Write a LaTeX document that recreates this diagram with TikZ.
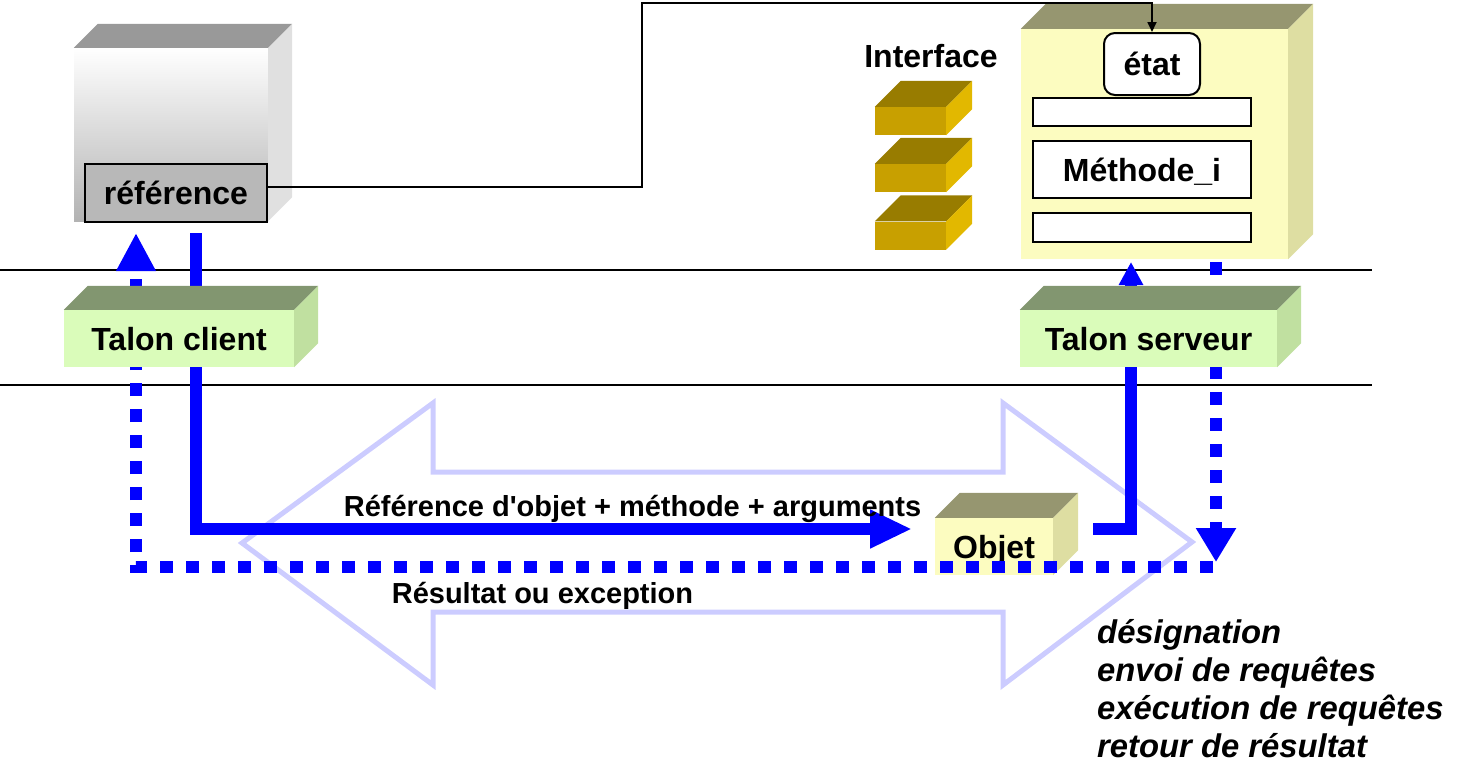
\documentclass[tikz,border=0pt]{standalone}
\usepackage{fontspec}
\setmainfont{Liberation Sans}
\usepackage{xcolor}
\usepackage{tikz}
\usetikzlibrary{arrows.meta,calc}

\definecolor{brickTop}{RGB}{152,124,0}
\definecolor{brickFront}{RGB}{200,160,0}
\definecolor{brickSide}{RGB}{226,184,0}
\definecolor{talonTop}{RGB}{130,150,112}
\definecolor{talonFront}{RGB}{218,252,186}
\definecolor{talonSide}{RGB}{192,224,160}
\definecolor{servTop}{RGB}{150,150,112}
\definecolor{servFront}{RGB}{252,252,192}
\definecolor{servSide}{RGB}{222,222,162}
\definecolor{haloBlue}{RGB}{204,204,255}

\newcommand{\bigfont}{\fontsize{32}{38}\selectfont\bfseries}
% top and side faces of a box whose front face is node #1
\newcommand{\cubeside}[4]{%
  \fill[#3] (#1.north west) -- ++(#2,-#2) -- ($(#1.north east)+(#2,-#2)$) -- (#1.north east) -- cycle;
  \fill[#4] (#1.north east) -- ++(#2,-#2) -- ($(#1.south east)+(#2,-#2)$) -- (#1.south east) -- cycle;
}

\begin{document}
\begin{tikzpicture}[x=1pt,y=-1pt,
    face/.style={inner sep=0pt, text height=23pt, text depth=0pt, font=\bigfont},
    slot/.style={draw, line width=2pt, fill=white, inner sep=0pt, minimum width=218pt},
    flow/.style={draw=blue, line width=12pt},
    dotflow/.style={flow, dash pattern=on 13pt off 13pt},
    sep/.style={line width=2pt},
    link/.style={line width=1.8pt, -{Triangle[length=10pt,width=9pt]}},
    msg/.style={font=\fontsize{29}{34}\selectfont\bfseries, inner sep=0pt, anchor=base},
    roleitem/.style={font=\fontsize{32.8}{38}\selectfont\bfseries\itshape, inner sep=0pt, anchor=base west}]
    \useasboundingbox (0,0) rectangle (1464,782);
    % Layer separators
    \draw[sep] (0,270) -- (1372,270);
    \draw[sep] (0,385) -- (1372,385);
    % Double arrow in the background
    \draw[haloBlue, line width=5pt] (242,543) -- (433,403) -- (433,472) -- (1003,472)
      -- (1003,403) -- (1192,542) -- (1003,685) -- (1003,612) -- (433,612) -- (433,685) -- cycle;
    % Objet
    \node[face, fill=servFront, minimum width=118pt, minimum height=57pt] (objet) at (994,546.5) {Objet};
    \cubeside{objet}{25}{servTop}{servSide}
    % Request and result flows
    \coordinate (reqStart) at (196,233);
    \coordinate (reqEnd) at (912,529);
    \coordinate (srvStart) at (1093,529);
    \coordinate (srvEnd) at (1131,262);
    \coordinate (resStart) at (1216,262);
    \coordinate (resEnd) at (1216,562);
    \coordinate (retStart) at (1213,567);
    \coordinate (retEnd) at (136,233);
    \draw[dotflow, -{Triangle[length=38pt,width=37pt]}] (retStart) -| (retEnd);
    \draw[flow, -{Triangle[length=42pt,width=36pt]}] (reqStart) |- (reqEnd);
    \draw[flow, -{Triangle[length=23pt,width=23pt]}] (srvStart) -| (srvEnd);
    \draw[dotflow, -{Triangle[length=34pt,width=38pt]}] (resStart) -- (resEnd);
    % Client
    \node[face, top color=white, middle color=black!6, bottom color=black!30,
      minimum width=194pt, minimum height=173pt] (client) at (171,134.5) {};
    \cubeside{client}{24}{black!40}{black!12}
    \node[face, fill=black!28, draw, line width=1.8pt, minimum width=182pt, minimum height=58pt] (ref) at (176,193) {référence};
    % Stubs
    \node[face, fill=talonFront, minimum width=230pt, minimum height=57pt] (tclient) at (179,338.5) {Talon client};
    \cubeside{tclient}{24}{talonTop}{talonSide}
    \node[face, fill=talonFront, minimum width=257pt, minimum height=57pt] (tserveur) at (1148.5,338.5) {Talon serveur};
    \cubeside{tserveur}{24}{talonTop}{talonSide}
    % Server object
    \node[face, fill=servFront, minimum width=267pt, minimum height=230pt] (serveur) at (1154.5,144) {};
    \cubeside{serveur}{25}{servTop}{servSide}
    \node[face, draw, fill=white, line width=2pt, rounded corners=11pt, minimum width=96pt, minimum height=62pt] (etat) at (1152,64) {état};
    \node[slot, minimum height=28pt] (slot1) at (1142,112) {};
    \node[slot, face, minimum height=57pt] (methode) at (1142,169.5) {Méthode\_i};
    \node[slot, minimum height=29pt] (slot2) at (1142,227.5) {};
    % Interface
    \node[font=\bigfont, inner sep=0pt, anchor=base] (iface) at (931,67) {Interface};
    \foreach \y [count=\i] in {121,178,235.5} {
      \node[fill=brickFront, inner sep=0pt, minimum width=71pt, minimum height=28pt] (brick\i) at (910.5,\y) {};
      \cubeside{brick\i}{26}{brickTop}{brickSide}
    }
    % Reference link
    \draw[link] ([yshift=6pt]ref.east) -| (642,3) -| (etat.north);
    % Labels
    \node[msg] (reqLbl) at (632.5,516) {Référence d\textquotesingle objet + méthode + arguments};
    \node[msg] (resLbl) at (542.5,603) {Résultat ou exception};
    \foreach \t [count=\i] in {désignation, envoi de requêtes, exécution de requêtes, retour de résultat}
      \node[roleitem] (role\i) at (1097,605+38*\i) {\t};
\end{tikzpicture}
\end{document}
